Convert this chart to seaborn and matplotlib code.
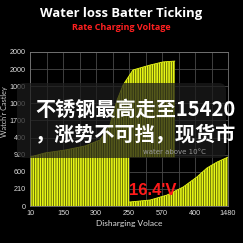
import matplotlib
matplotlib.use("Agg")
import matplotlib.pyplot as plt
from matplotlib.patches import FancyBboxPatch
import seaborn as sns
import pandas as pd

# data (tick index units)
x_ticklabels = ['10', '150', '300', '250', '570', '400', '1480']
y_ticklabels = ['0', '210', '600', '920', '400', '1700', '1000', '1000', '2000', '2000']

upper_x = [0.0, 0.45, 1.06, 1.67, 2.12, 2.42, 2.64, 2.82, 3.0, 3.12, 3.64, 4.03, 4.39]
upper_y = [2.86, 3.10, 3.27, 3.51, 3.86, 4.73, 6.20, 7.07, 7.6, 7.95, 8.24, 8.42, 8.47]
split_x = 3.0      # where the left block ends
upper_floor = 2.85  # lower edge of the upper part right of the split

lower_x = [3.0, 3.64, 4.15, 4.64, 5.06, 5.36, 5.67, 6.0]
lower_y = [0.23, 0.35, 0.64, 1.11, 1.70, 2.22, 2.57, 2.86]

sns.set_style("dark", {"axes.facecolor": "black", "figure.facecolor": "black"})
plt.rcParams['hatch.linewidth'] = 0.5

YEL = '#e6f516'
STRIPE = '#3a4000'

fig = plt.figure(figsize=(2.43, 2.43), dpi=100)
ax = fig.add_axes([30/243, 37/243, 198/243, 154/243])
ax.set_facecolor('black')

up = pd.DataFrame({'x': upper_x, 'y': upper_y})
lo = pd.DataFrame({'x': lower_x, 'y': lower_y})

left = up[up.x <= split_x]
right = up[up.x >= split_x]
ax.fill_between(left.x, 0, left.y, facecolor=YEL, edgecolor=STRIPE,
                hatch='|' * 7, linewidth=0, zorder=2)
ax.fill_between(right.x, upper_floor, right.y, facecolor=YEL, edgecolor=STRIPE,
                hatch='|' * 7, linewidth=0, zorder=2)
ax.fill_between(lo.x, 0, lo.y, facecolor=YEL, edgecolor=STRIPE,
                hatch='|' * 7, linewidth=0, zorder=2)
sns.lineplot(data=up, x='x', y='y', ax=ax, color=YEL, lw=0.6, zorder=3)
sns.lineplot(data=lo, x='x', y='y', ax=ax, color=YEL, lw=0.6, zorder=3)

ax.set_xlim(0, 6)
ax.set_ylim(0, 9)
ax.set_xticks(range(len(x_ticklabels)))
ax.set_xticklabels(x_ticklabels, family='Liberation Sans')
ax.set_xticks([i + 0.5 for i in range(6)], minor=True)
ax.set_yticks(range(len(y_ticklabels)))
ax.set_yticklabels(y_ticklabels, family='Liberation Sans')
ax.grid(True, which='both', color='#4a4a4a', lw=0.6, zorder=1)
ax.set_axisbelow(True)
ax.tick_params(colors='#dddddd', labelsize=5.2, length=2, width=0.5, pad=1.2)
ax.tick_params(which='minor', length=0)
for s in ax.spines.values():
    s.set_visible(True)
    s.set_color('#777777')
    s.set_linewidth(0.6)

ax.set_xlabel('Disharging Volace', color='#dddddd', fontsize=6, family='Lato', labelpad=2)
ax.set_ylabel('')
fig.text(4.8/243, 1 - 112/243, "Watch'r Castley", color='#cccccc', fontsize=5.2,
         family='Lato', rotation=90, ha='center', va='center')

fig.text(0.5, 1 - 14/243, 'Water loss Batter Ticking', color='white', fontsize=9.4,
         fontweight='bold', family='Open Sans', ha='center', va='center')
fig.text(0.5, 1 - 28/243, 'Rate Charging Voltage', color='#ff2020', fontsize=6.5,
         fontweight='bold', family='Open Sans', ha='center', va='center')

# dark caption overlay
box = FancyBboxPatch((17/243, 85/243), 209/243, 75/243,
                     boxstyle='round,pad=0,rounding_size=0.03',
                     transform=fig.transFigure, facecolor='#1c1c1c', alpha=0.72,
                     edgecolor='none', zorder=5)
fig.patches.append(box)

fig.text(174/243, 1 - 152/243, 'water above 10°C', color='#9a9a9a', fontsize=5,
         ha='center', va='center', zorder=6)
cjk = ['Noto Sans CJK SC', 'DejaVu Sans']
fig.text(35/243, 1 - 109/243, '不锈钢最高走至15420', color='white', fontsize=14.5,
         fontweight='bold', family=cjk, ha='left', va='center', zorder=7)
fig.text(35/243, 1 - 135/243, '，涨势不可挡，现货市', color='white', fontsize=14.5,
         fontweight='bold', family=cjk, ha='left', va='center', zorder=7)

ax.text(3.0, 0.88, "16.4'V", color='#ff1a1a', fontsize=12, fontweight='bold',
        family='Liberation Sans', ha='left', va='center', zorder=8)

fig.savefig('out.png', dpi=100, facecolor='black')
